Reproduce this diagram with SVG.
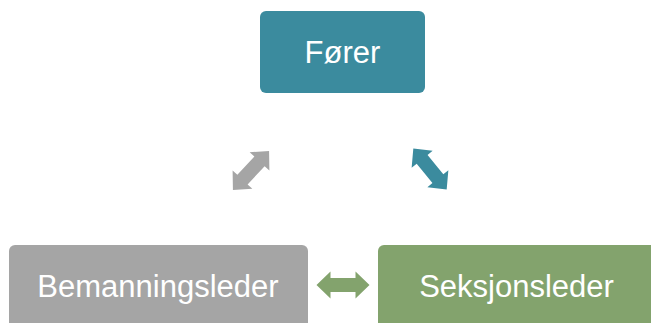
<svg xmlns="http://www.w3.org/2000/svg" xmlns:xlink="http://www.w3.org/1999/xlink" width="651" height="323" viewBox="0 0 651 323">
<style>
.lbl{font-family:"Liberation Sans",Arial,sans-serif;font-size:31px;fill:#ffffff;text-anchor:middle}
</style>
<defs>
<path id="dbl" d="M-26.5,0 L-12.5,-13.5 L-12.5,-7 L12.5,-7 L12.5,-13.5 L26.5,0 L12.5,13.5 L12.5,7 L-12.5,7 L-12.5,13.5 Z"/>
</defs>
<rect width="651" height="323" fill="#ffffff"/>
<g id="connectors">
<use xlink:href="#dbl" href="#dbl" fill="#A5A5A5" transform="translate(251,170.5) rotate(-47)"/>
<use xlink:href="#dbl" href="#dbl" fill="#3B8B9E" transform="translate(430,169) rotate(51)"/>
<use xlink:href="#dbl" href="#dbl" fill="#83A36D" transform="translate(343,285)"/>
</g>
<g id="forer">
<rect x="260" y="11" width="165" height="82" rx="6" fill="#3B8B9E"/>
<text class="lbl" x="342.5" y="63">Fører</text>
</g>
<g id="bemanningsleder">
<rect x="9" y="245" width="299" height="84" rx="6" fill="#A5A5A5"/>
<text class="lbl" x="158" y="297">Bemanningsleder</text>
</g>
<g id="seksjonsleder">
<rect x="378" y="245" width="299" height="84" rx="6" fill="#83A36D"/>
<text class="lbl" x="516.5" y="297">Seksjonsleder</text>
</g>
</svg>
